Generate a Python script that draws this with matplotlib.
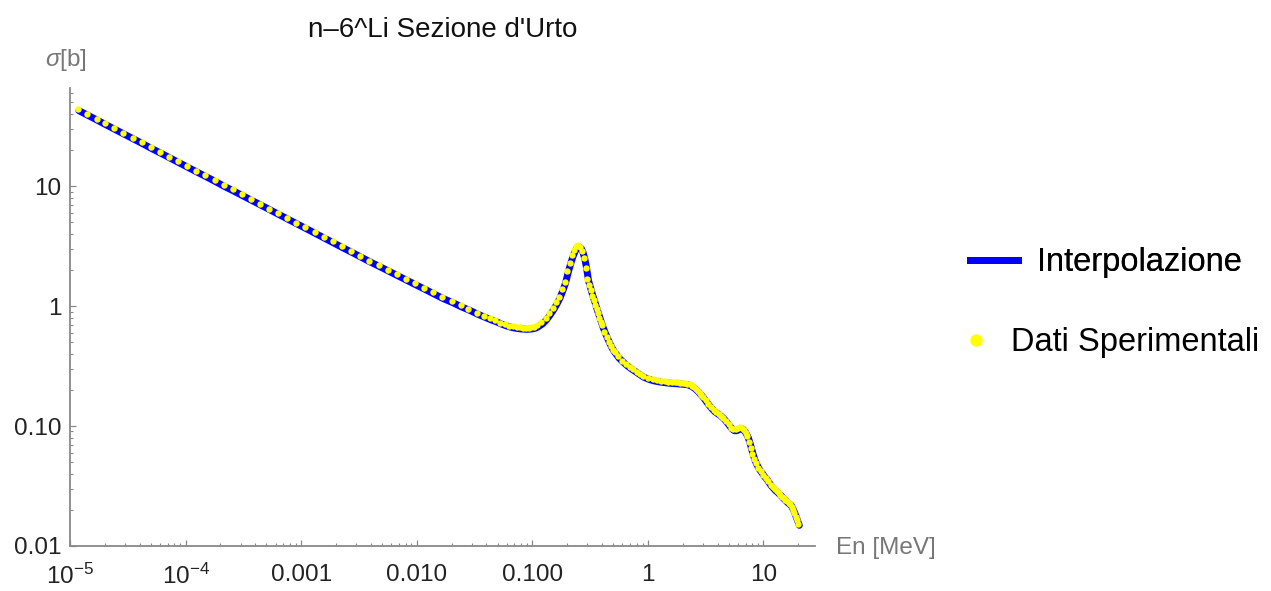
import matplotlib
matplotlib.use("Agg")
import matplotlib.pyplot as plt
import matplotlib.transforms as mtransforms
from matplotlib.lines import Line2D
from matplotlib.ticker import FixedLocator, FixedFormatter, NullFormatter, LogLocator

plt.rcParams['font.family'] = ['Liberation Sans', 'DejaVu Sans']
plt.rcParams['mathtext.fontset'] = 'custom'
plt.rcParams['mathtext.rm'] = 'Liberation Sans'
plt.rcParams['mathtext.it'] = 'Liberation Sans:italic'
plt.rcParams['mathtext.default'] = 'regular'

# ---- data (energy in MeV, cross section in barn) ----
energy = [
    1.17e-5, 1.4e-5, 1.7e-5, 2.0e-5, 2.4e-5, 2.9e-5, 3.5e-5, 4.2e-5, 5.0e-5, 6.0e-5,
    7.2e-5, 8.6e-5, 1.03e-4, 1.24e-4, 1.48e-4, 1.78e-4, 2.13e-4, 2.55e-4, 3.06e-4, 3.67e-4,
    4.4e-4, 5.3e-4, 6.3e-4, 7.6e-4, 9.1e-4, 1.09e-3, 1.31e-3, 1.57e-3, 1.88e-3, 2.26e-3,
    2.7e-3, 3.25e-3, 3.9e-3, 4.7e-3, 5.6e-3, 6.7e-3, 8.0e-3, 9.6e-3, 1.15e-2, 1.38e-2,
    1.65e-2, 0.020, 0.024, 0.028, 0.033, 0.038, 0.043, 0.048, 0.053, 0.058,
    0.063, 0.068, 0.073, 0.078, 0.083, 0.088, 0.093, 0.098, 0.104, 0.11,
    0.12, 0.13, 0.14, 0.15, 0.16, 0.17, 0.18, 0.19, 0.20, 0.21,
    0.22, 0.23, 0.24, 0.25, 0.26, 0.27, 0.28, 0.29, 0.30, 0.31,
    0.32, 0.33, 0.34, 0.35, 0.36, 0.37, 0.38, 0.39, 0.40, 0.42,
    0.44, 0.46, 0.48, 0.50, 0.52, 0.55, 0.60, 0.65, 0.70, 0.75,
    0.80, 0.85, 0.90, 1.0, 1.1, 1.2, 1.3, 1.4, 1.5, 1.6,
    1.7, 1.8, 1.9, 2.0, 2.1, 2.2, 2.3, 2.4, 2.5, 2.6,
    2.7, 2.8, 2.9, 3.0, 3.15, 3.3, 3.5, 3.7, 3.9, 4.1,
    4.3, 4.5, 4.75, 5.0, 5.25, 5.5, 5.75, 6.0, 6.25, 6.5,
    6.75, 7.0, 7.25, 7.5, 7.75, 8.0, 8.3, 8.6, 9.0, 9.5,
    10.0, 10.5, 11.0, 11.5, 12.0, 12.5, 13.0, 13.5, 14.0, 14.5,
    15.0, 15.5, 16.0, 16.5, 17.0, 17.5, 18.0, 18.5, 19.0, 19.5,
    20.0,
]
sigma = [
    43.7, 40.0, 36.3, 33.4, 30.5, 27.8, 25.3, 23.1, 21.1, 19.3,
    17.6, 16.1, 14.7, 13.4, 12.3, 11.2, 10.2, 9.36, 8.55, 7.80,
    7.13, 6.49, 5.96, 5.42, 4.96, 4.53, 4.13, 3.77, 3.45, 3.14,
    2.88, 2.62, 2.39, 2.19, 2.01, 1.84, 1.69, 1.55, 1.42, 1.30,
    1.19, 1.10, 1.01, 0.95, 0.88, 0.83, 0.79, 0.76, 0.728, 0.705,
    0.688, 0.676, 0.668, 0.663, 0.660, 0.658, 0.660, 0.664, 0.672, 0.69,
    0.73, 0.79, 0.87, 0.96, 1.07, 1.20, 1.38, 1.60, 1.95, 2.30,
    2.65, 2.95, 3.15, 3.20, 3.10, 2.85, 2.50, 2.08, 1.68, 1.50,
    1.35, 1.22, 1.12, 1.02, 0.94, 0.87, 0.80, 0.74, 0.69, 0.61,
    0.55, 0.50, 0.46, 0.43, 0.41, 0.38, 0.35, 0.327, 0.31, 0.296,
    0.284, 0.273, 0.263, 0.252, 0.245, 0.241, 0.238, 0.236, 0.234, 0.233,
    0.232, 0.231, 0.230, 0.229, 0.228, 0.226, 0.222, 0.217, 0.211, 0.204,
    0.197, 0.189, 0.182, 0.175, 0.164, 0.154, 0.144, 0.136, 0.131, 0.127,
    0.122, 0.117, 0.110, 0.103, 0.097, 0.094, 0.094, 0.096, 0.098, 0.097,
    0.093, 0.088, 0.082, 0.074, 0.066, 0.059, 0.053, 0.049, 0.045, 0.042,
    0.039, 0.037, 0.0345, 0.0325, 0.031, 0.0297, 0.0288, 0.0278, 0.0268, 0.0258,
    0.0250, 0.0243, 0.0235, 0.0230, 0.0225, 0.0213, 0.0201, 0.0188, 0.0175, 0.0164,
    0.0153,
]

x_ticks = [1e-5, 1e-4, 1e-3, 1e-2, 1e-1, 1, 10]
x_tick_labels = ['$10^{-5}$', '$10^{-4}$', '0.001', '0.010', '0.100', '1', '10']
y_ticks = [0.01, 0.1, 1, 10]
y_tick_labels = ['0.01', '0.10', '1', '10']

title = "n\u20126^Li Sezione d'Urto"
label_line = 'Interpolazione'
label_dots = 'Dati Sperimentali'

W, H = 1271, 591
fig = plt.figure(figsize=(W / 100, H / 100), dpi=100)
ax_l, ax_r, ax_b, ax_t = 70, 815, 546, 88
ax = fig.add_axes([ax_l / W, 1 - ax_b / H, (ax_r - ax_l) / W, (ax_b - ax_t) / H])
ax.set_xscale('log')
ax.set_yscale('log')
ax.set_xlim(1e-5, 27.9)
ax.set_ylim(0.01, 65.6)

blue = (0, 0, 1)
yellow = (1, 1, 0)
trans = mtransforms.offset_copy(ax.transData, fig=fig, x=1.0, y=-1.5, units='dots')
ax.plot(energy, sigma, color=blue, lw=5.0, solid_capstyle='round',
        solid_joinstyle='round', transform=trans, zorder=2, clip_on=False)
ax.plot(energy, sigma, linestyle='none', marker='o', ms=4.6, mfc=yellow,
        mec='none', zorder=3, clip_on=False)

for s in ['top', 'right']:
    ax.spines[s].set_visible(False)
gray = '#888888'
for s in ['left', 'bottom']:
    ax.spines[s].set_color(gray)
    ax.spines[s].set_linewidth(1.3)

ax.xaxis.set_major_locator(FixedLocator(x_ticks))
ax.xaxis.set_major_formatter(FixedFormatter(x_tick_labels))
ax.yaxis.set_major_locator(FixedLocator(y_ticks))
ax.yaxis.set_major_formatter(FixedFormatter(y_tick_labels))
ax.xaxis.set_minor_locator(LogLocator(base=10, subs=range(2, 10), numticks=50))
ax.yaxis.set_minor_locator(LogLocator(base=10, subs=range(2, 10), numticks=50))
ax.xaxis.set_minor_formatter(NullFormatter())
ax.yaxis.set_minor_formatter(NullFormatter())
ax.tick_params(which='major', direction='in', length=4.5, width=0.9, color=gray,
               labelsize=17.5, labelcolor='#222222')
ax.tick_params(which='minor', direction='in', length=2.3, width=0.8, color=gray)
ax.tick_params(axis='x', which='major', pad=13)
ax.tick_params(axis='y', which='major', pad=6)

fig.text(443 / W, 1 - 30 / H, title, ha='center', va='center', fontsize=20, color='#111111')
fig.text(66 / W, 1 - 60 / H, r'$\mathit{\sigma}$[b]', ha='center', va='center',
         fontsize=17.5, color='#777777')
fig.text(836 / W, 1 - 548 / H, 'En [MeV]', ha='left', va='center', fontsize=17.5,
         color='#777777')

fs_leg = 23.5
h_line = Line2D([], [], color=blue, lw=5)
h_dot = Line2D([], [], linestyle='none', marker='o', ms=9, mfc=yellow, mec='none')
leg1 = fig.legend(handles=[h_line], labels=[label_line], loc='center left',
                  bbox_to_anchor=(970 / W, 1 - 263 / H), frameon=False, fontsize=fs_leg,
                  borderpad=0, borderaxespad=0, handlelength=1.47, handletextpad=0.58)
fig.add_artist(leg1)
leg2 = fig.legend(handles=[h_dot], labels=[label_dots], loc='center left',
                  bbox_to_anchor=(966 / W, 1 - 343 / H), frameon=False, fontsize=fs_leg,
                  borderpad=0, borderaxespad=0, handlelength=0.6, handletextpad=0.78)

fig.savefig('out.png', dpi=100, facecolor='white')
